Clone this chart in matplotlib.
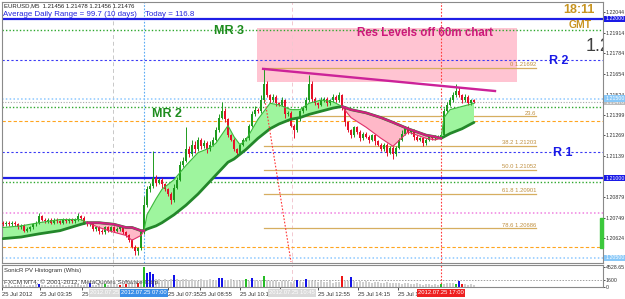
import numpy as np
import matplotlib
matplotlib.use("Agg")
import matplotlib.pyplot as plt
from matplotlib.patches import Rectangle

plt.rcParams['font.family'] = ['Liberation Sans', 'DejaVu Sans']

# ---- EURUSD M5 bars (close price per bar, wick size in pips) ----
first_open = 1.2072
closes = [1.2071, 1.2072, 1.2071, 1.2072, 1.2071, 1.2069, 1.2070, 1.2067, 1.2068, 1.2069,
          1.2071, 1.2072, 1.2076, 1.2074, 1.2073, 1.2074, 1.2072, 1.2074, 1.2073, 1.2072,
          1.2074, 1.2073, 1.2074, 1.2073, 1.2074, 1.2076, 1.2075, 1.2072, 1.2071, 1.2071,
          1.2068, 1.2069, 1.2067, 1.2066, 1.2069, 1.2067, 1.2069, 1.2067, 1.2068, 1.2069,
          1.2066, 1.2064, 1.2061, 1.2057, 1.2054, 1.2056, 1.2066, 1.2083, 1.2093, 1.2095,
          1.2100, 1.2097, 1.2099, 1.2096, 1.2093, 1.2090, 1.2086, 1.2094, 1.2099, 1.2108,
          1.2111, 1.2118, 1.2115, 1.2121, 1.2118, 1.2124, 1.2120, 1.2122, 1.2118, 1.2121,
          1.2124, 1.2130, 1.2138, 1.2142, 1.2137, 1.2127, 1.2124, 1.2118, 1.2116, 1.2121,
          1.2124, 1.2125, 1.2133, 1.2140, 1.2143, 1.2142, 1.2149, 1.2159, 1.2152, 1.2149,
          1.2151, 1.2147, 1.2146, 1.2149, 1.2140, 1.2141, 1.2133, 1.2130, 1.2137, 1.2142,
          1.2144, 1.2149, 1.2159, 1.2150, 1.2147, 1.2146, 1.2149, 1.2150, 1.2147, 1.2149,
          1.2151, 1.2149, 1.2152, 1.2144, 1.2135, 1.2130, 1.2127, 1.2132, 1.2129, 1.2125,
          1.2128, 1.2126, 1.2124, 1.2127, 1.2123, 1.2121, 1.2118, 1.2121, 1.2116, 1.2119,
          1.2115, 1.2119, 1.2124, 1.2128, 1.2132, 1.2129, 1.2130, 1.2126, 1.2124, 1.2125,
          1.2122, 1.2124, 1.2126, 1.2125, 1.2126, 1.2126, 1.2127, 1.2142, 1.2146, 1.2149,
          1.2152, 1.2155, 1.2152, 1.2149, 1.2151, 1.2147, 1.2149, 1.2148]
upper_wick = [1, 1, 1, 1, 1, 1, 1, 1, 1, 1,  1, 1, 2, 1, 1, 1, 1, 1, 1, 1,
              1, 1, 1, 1, 1, 2, 1, 1, 1, 1,  1, 1, 1, 1, 1, 1, 1, 1, 1, 1,
              1, 1, 1, 1, 1, 1, 1, 6, 2, 2,  17, 2, 1, 1, 1, 1, 1, 2, 2, 3,
              2, 14, 2, 3, 2, 2, 1, 2, 1, 2,  2, 2, 2, 6, 2, 1, 1, 1, 1, 1,
              1, 1, 1, 2, 2, 1, 3, 10, 2, 1,  2, 1, 1, 2, 1, 1, 1, 1, 1, 1,
              1, 2, 6, 2, 1, 1, 2, 1, 1, 1,  2, 1, 2, 1, 1, 1, 1, 1, 1, 1,
              1, 1, 1, 1, 1, 1, 1, 1, 1, 1,  1, 1, 1, 2, 1, 1, 1, 1, 1, 1,
              1, 1, 1, 1, 1, 1, 1, 2, 2, 2,  2, 4, 2, 1, 2, 1, 1, 1]
lower_wick = [1, 1, 1, 1, 1, 1, 1, 1, 1, 1,  1, 1, 1, 1, 1, 1, 1, 1, 1, 1,
              1, 1, 1, 1, 1, 1, 1, 1, 1, 1,  1, 1, 2, 1, 1, 1, 1, 1, 1, 1,
              1, 1, 1, 1, 2, 2, 1, 1, 1, 2,  1, 2, 1, 2, 1, 1, 2, 1, 1, 1,
              1, 1, 2, 1, 2, 1, 2, 1, 2, 1,  1, 1, 1, 1, 2, 1, 1, 1, 3, 1,
              1, 1, 1, 1, 1, 1, 1, 2, 1, 2,  1, 2, 1, 1, 2, 1, 1, 5, 1, 1,
              1, 1, 1, 2, 1, 2, 1, 1, 2, 1,  1, 1, 1, 1, 2, 1, 2, 1, 1, 2,
              1, 1, 2, 1, 2, 1, 1, 1, 2, 1,  3, 1, 1, 1, 1, 1, 1, 2, 1, 1,
              2, 1, 1, 1, 1, 1, 1, 1, 1, 1,  1, 1, 1, 2, 1, 1, 1, 1]

# ---- moving averages (fast / slow) read at these bars ----
ma_bars = [0, 6, 12, 19, 26, 28, 32, 37, 41, 43, 46, 47, 48, 51, 53, 57, 61, 65, 69, 71,
           75, 77, 79, 81, 85, 89, 92, 96, 99, 102, 106, 110, 113, 116, 121, 126, 130, 135,
           138, 141, 144, 146, 147, 149, 153, 157]
ma_fast = [1.2069, 1.2070, 1.2072, 1.2074, 1.2074, 1.2072, 1.2069, 1.2066, 1.2064, 1.2061,
           1.2064, 1.2067, 1.2077, 1.2087, 1.2093, 1.2099, 1.2108, 1.2116, 1.2119, 1.2122,
           1.2133, 1.2126, 1.2121, 1.2124, 1.2137, 1.2147, 1.2146, 1.2143, 1.2143, 1.2147,
           1.2149, 1.2148, 1.2145, 1.2138, 1.2132, 1.2125, 1.2120, 1.2129, 1.2127, 1.2125,
           1.2124, 1.2125, 1.2138, 1.2143, 1.2145, 1.2147]
ma_slow = [1.2062, 1.2063, 1.2065, 1.2067, 1.2071, 1.2072, 1.2072, 1.2071, 1.2069, 1.2069,
           1.2067, 1.2067, 1.2068, 1.2070, 1.2072, 1.2077, 1.2083, 1.2090, 1.2098, 1.2102,
           1.2110, 1.2112, 1.2115, 1.2118, 1.2125, 1.2131, 1.2134, 1.2137, 1.2138, 1.2140,
           1.2142, 1.2144, 1.2145, 1.2143, 1.2141, 1.2138, 1.2135, 1.2131, 1.2129, 1.2127,
           1.2126, 1.2125, 1.2126, 1.2128, 1.2131, 1.2135]

# ---- volume histogram ----
volumes = [500, 400, 600, 300, 500, 400, 600, 500, 300, 400,
           500, 700, 700, 400, 500, 300, 400, 500, 400, 600,
           500, 300, 400, 500, 600, 700, 500, 400, 600, 800,
           500, 400, 700, 600, 600, 400, 600, 800, 700, 500,
           600, 700, 800, 900, 700, 800, 1500, 4500, 3100, 3300,
           3000, 1700, 1900, 1600, 1800, 1500, 1700, 2800, 1800, 1600,
           1900, 1700, 1500, 1800, 1600, 1400, 1700, 1500, 1600, 1800,
           1400, 1500, 2000, 2000, 1600, 1500, 1700, 1400, 1600, 1300,
           1500, 1800, 1300, 2000, 1500, 1400, 1600, 2400, 1500, 1400,
           1300, 1600, 1200, 1400, 1500, 1300, 1200, 1400, 1500, 1300,
           1200, 1800, 1500, 1300, 1400, 1200, 1300, 1100, 1200, 1300,
           1000, 1200, 1100, 2500, 1400, 1300, 2300, 1300, 1200, 1400,
           1100, 1300, 1200, 1000, 1100, 1200, 900, 1000, 1100, 900,
           800, 1000, 900, 700, 800, 900, 600, 700, 800, 600,
           500, 700, 600, 500, 600, 400, 600, 700, 800, 900,
           800, 700, 1400, 700, 600, 500, 700, 400]
vol_kind = ("nnnnnnnnnn" "nnbnnnnnnn" "nnnnnnnnnb" "nnnngnnnnr" "nrnnnrngbb"
            "bnnnnnnbnn" "nnnnnnnnnn" "nnbbnnnnnn" "ngnbnnngnn" "nnnnnnnnbn"
            "nbnnnnnnnn" "nnnrnnbnnn" "nnnnnnnnnn" "nnnnnnnnnn" "nnnnnngnnn"
            "ngbrnnnn")
vol_max = 4528.65

# ---- levels ----
level_prices = [1.22000, 1.21931, 1.21743, 1.21500, 1.21476, 1.21448, 1.21360,
                1.21165, 1.21000, 1.20977, 1.20782, 1.20569, 1.20500]
fib_labels = ["0 1.21692", "23.6", "38.2 1.21203", "50.0 1.21052", "61.8 1.20901", "78.6 1.20686"]
fib_prices = [1.21692, 1.21390, 1.21203, 1.21052, 1.20901, 1.20686]
zone_bars = (84.7, 171.3)
zone_prices = (1.21604, 1.21943)
trend_bars = [86.7, 164]
trend_prices = [1.21686, 1.21547]
ray_bars = [87.3, 96]
ray_prices = [1.21491, 1.20474]

price_ticks = [1.22044, 1.21914, 1.21784, 1.21654, 1.21524, 1.21399, 1.21269,
               1.21139, 1.20879, 1.20749, 1.20624]
time_tick_bars = [-0.3, 12.3, 26.3, 55, 65.7, 79, 92.3, 105, 118.3, 131.7]
time_tick_labels = ["25 Jul 2012", "25 Jul 03:35", "25 Jul 04:55", "25 Jul 07:35",
                    "25 Jul 08:55", "25 Jul 10:15", "25 Jul 11:35", "25 Jul 12:55",
                    "25 Jul 14:15", "25 Jul 15:35"]

W, H = 625, 299
fig = plt.figure(figsize=(W / 100, H / 100), dpi=100)
fig.patch.set_facecolor('white')


def px_rect(x0, y0, x1, y1):
    return [x0 / W, 1 - y1 / H, (x1 - x0) / W, (y1 - y0) / H]


ax = fig.add_axes(px_rect(2, 2, 603, 263))
axv = fig.add_axes(px_rect(2, 265, 603, 287), sharex=ax)
ax.set_xlim(-0.333, 200)
ax.set_ylim(1.20467, 1.22106)

# zone, levels
ax.add_patch(Rectangle((zone_bars[0], zone_prices[0]), zone_bars[1] - zone_bars[0],
                       zone_prices[1] - zone_prices[0], fc='#FFC4D2', ec='none', zorder=1))
lv_style = [('#1E1EE6', '-', 1.6), ('#2EA82E', (0, (1, 1.5)), 1.0), ('#3A3AF5', (0, (2, 2)), 0.8),
            ('#8CC8FF', (0, (1, 1.5)), 1.1), ('#A8A8A8', (0, (1, 1.5)), 0.8),
            ('#2EA82E', (0, (1, 1.5)), 1.0), ('#FFA520', (0, (3, 2)), 0.8),
            ('#3A3AF5', (0, (2, 2)), 0.8), ('#1E1EE6', '-', 1.6), ('#2EA82E', (0, (1, 1.5)), 1.0),
            ('#F080E0', (0, (1, 1.5)), 1.1), ('#FFA520', (0, (3, 2)), 0.8),
            ('#8CC8FF', (0, (1, 1.5)), 1.1)]
for p, (c, ls, lw) in zip(level_prices, lv_style):
    ax.axhline(p, color=c, ls=ls, lw=lw, zorder=1.5)

# fibonacci
fib_x0, fib_x1 = 87, 177.7
for p, lab in zip(fib_prices, fib_labels):
    ax.plot([fib_x0, fib_x1], [p, p], color='#D6AE60', lw=0.9, zorder=1.6)
    ax.text(fib_x1, p + 0.00003, lab, ha='right', va='bottom', fontsize=4.2, color='#C09040', zorder=2)

# vertical lines
for a in (ax, axv):
    a.axvline(36.7, color='#C8C8C8', ls=(0, (4, 3)), lw=0.7, zorder=1.2)
    a.axvline(96.3, color='#F2C8D0', ls=(0, (4, 3)), lw=0.7, zorder=1.2)
    a.axvline(146, color='#FF3B3B', ls=(0, (1.5, 1.5)), lw=0.8, zorder=1.3)
ax.axvline(47, color='#5AAAF5', ls=(0, (1.5, 1.5)), lw=0.8, zorder=1.3)

# MA ribbon
mb = np.array(ma_bars, dtype=float)
f = np.array(ma_fast)
s = np.array(ma_slow)
ax.fill_between(mb, f, s, where=f >= s, interpolate=True, color='#9EF59E', lw=0, zorder=2)
ax.fill_between(mb, f, s, where=f < s, interpolate=True, color='#FFB8C8', lw=0, zorder=2)

# candles
n = len(closes)
bars = np.arange(n)
c = np.array(closes)
o = np.array([first_open] + closes[:-1])
top = np.maximum(o, c)
bot = np.minimum(o, c)
pip = 0.0001
highs = top + np.array(upper_wick) * pip
lows = bot - np.array(lower_wick) * pip
ccol = np.where(c >= o, '#1E9A1E', '#E5102A')
ax.vlines(bars, lows, highs, colors=ccol, lw=0.7, zorder=3)
ax.bar(bars, np.maximum(top - bot, 0.00003), bottom=bot, width=0.75, color=ccol, lw=0, zorder=3)

# MA lines
down = f < s
down_ext = down | np.roll(down, 1) | np.roll(down, -1)
ax.plot(mb, s, color='#23872A', lw=2.0, zorder=4, solid_capstyle='round')
ax.plot(mb, np.where(down_ext, s, np.nan), color='#D0207E', lw=1.6, zorder=4.1)
ax.plot(mb, np.where(~down, f, np.nan), color='#3CB83C', lw=0.8, zorder=4)
ax.plot(mb, np.where(down_ext, f, np.nan), color='#E0306A', lw=0.8, zorder=4)

# trend line & ray
ax.plot(trend_bars, trend_prices, color='#CC2299', lw=1.7, zorder=5)
ax.plot(ray_bars, ray_prices, color='#FF3535', ls=(0, (1.5, 1.5)), lw=0.8, zorder=5)

# right-edge range bar
ax.add_patch(Rectangle((0.9955, 1.2056), 0.0045, 0.0019, transform=ax.get_yaxis_transform(),
                       color='#3CC83C', zorder=6, clip_on=False))

# annotations
ax.text(75.3, 1.21924, "MR 3", color='#1E8C1E', fontsize=9, fontweight='bold', ha='center', va='center', zorder=6)
ax.text(54.7, 1.21403, "MR 2", color='#1E8C1E', fontsize=9, fontweight='bold', ha='center', va='center', zorder=6)
ax.text(185.3, 1.21736, "R 2", color='#1A1AE6', fontsize=9, fontweight='bold', ha='center', va='center', zorder=6)
ax.text(186.7, 1.21158, "R 1", color='#1A1AE6', fontsize=9, fontweight='bold', ha='center', va='center', zorder=6)
ax.text(140.7, 1.21912, "Res Levels off 60m chart", color='#CC1A7A', fontsize=8.3,
        fontweight='bold', ha='center', va='center', zorder=6)
ax.text(192, 1.22056, "18:11", color='#C89420', fontsize=9, fontweight='bold', ha='center', va='center', zorder=6)
ax.text(192.3, 1.21962, "GMT", color='#C89420', fontsize=7.5, fontweight='bold', ha='center', va='center', zorder=6)
ax.text(194.3, 1.21824, "1.2", color='#404040', fontsize=13, ha='left', va='center', zorder=6, clip_on=True)

fig.text(4 / W, 1 - 6 / H, "EURUSD,M5  1.21456 1.21478 1.21456 1.21476", fontsize=4.3,
         color='#222222', va='center')
fig.text(3 / W, 1 - 14.5 / H, "Average Daily Range = 99.7 (10 days)", fontsize=5.7,
         color='#2424DD', va='center')
fig.text(145 / W, 1 - 14.5 / H, "Today = 116.8", fontsize=5.7, color='#2424DD', va='center')

# price axis
LBL = 3.8
ax.yaxis.tick_right()
ax.set_yticks(price_ticks)
ax.set_yticklabels([f"{p:.5f}" for p in price_ticks])
ax.tick_params(axis='y', labelsize=LBL, length=1.5, pad=0.6, colors='#333333', width=0.6)
ax.tick_params(axis='x', bottom=False, labelbottom=False)
ytr = ax.get_yaxis_transform()
box_specs = [(1.22000, '#1A1AE6'), (1.21476, '#BBBBBB'), (1.21500, '#88C8F8'),
             (1.21000, '#1A1AE6'), (1.20500, '#88C8F8')]
for p, bc in box_specs:
    ax.text(1.0035, p, f"{p:.5f}", transform=ytr, fontsize=LBL, color='white', ha='left', va='center',
            zorder=7, clip_on=False, bbox=dict(boxstyle='square,pad=0.12', fc=bc, ec='none'))

for a in (ax, axv):
    for sp in a.spines.values():
        sp.set_color('#8A8A8A')
        sp.set_linewidth(0.8)

# volume pane
kind_col = {'n': '#CFCFCF', 'b': '#1212E8', 'r': '#EE1515', 'g': '#25BB25'}
axv.bar(bars, volumes, width=0.7, color=[kind_col[k] for k in vol_kind], lw=0, zorder=2)
axv.set_ylim(0, 4960)
axv.axhline(1600, color='#A0A0A0', ls=(0, (1.5, 1.5)), lw=0.7, zorder=1)
axv.yaxis.tick_right()
axv.set_yticks([0, 1600, vol_max])
axv.set_yticklabels(["0", "1600", "4528.65"])
axv.tick_params(axis='y', labelsize=LBL, length=1.5, pad=0.6, colors='#333333', width=0.6)
axv.text(0.003, 0.75, "SonicR PV Histogram (Whis)", transform=axv.transAxes, fontsize=4.3,
         color='#333333', va='center')
axv.text(0.003, 0.2, "FXCM MT4, \u00a9 2001-2012, MetaQuotes Software Corp.", transform=axv.transAxes,
         fontsize=4.6, color='#444444', va='center', zorder=5)

axv.set_xticks(time_tick_bars)
axv.set_xticklabels(time_tick_labels, ha='left')
axv.tick_params(axis='x', labelsize=4.2, length=2, pad=1.5, colors='#333333', width=0.6)

xtr = axv.get_xaxis_transform()
for xb, lab, bc in [(36.7, "2012.07.25 05:40", '#DADADA'), (96.3, "2012.07.25 10:45", '#DADADA'),
                    (47, "2012.07.25 07:00", '#3A8EE8'), (146, "2012.07.25 17:00", '#EE2020')]:
    axv.text(xb, -0.27, lab, transform=xtr, fontsize=4.2, color='white', ha='center', va='center',
             zorder=8, clip_on=False, bbox=dict(boxstyle='square,pad=0.2', fc=bc, ec='none'))

fig.savefig("out.png", dpi=100)
